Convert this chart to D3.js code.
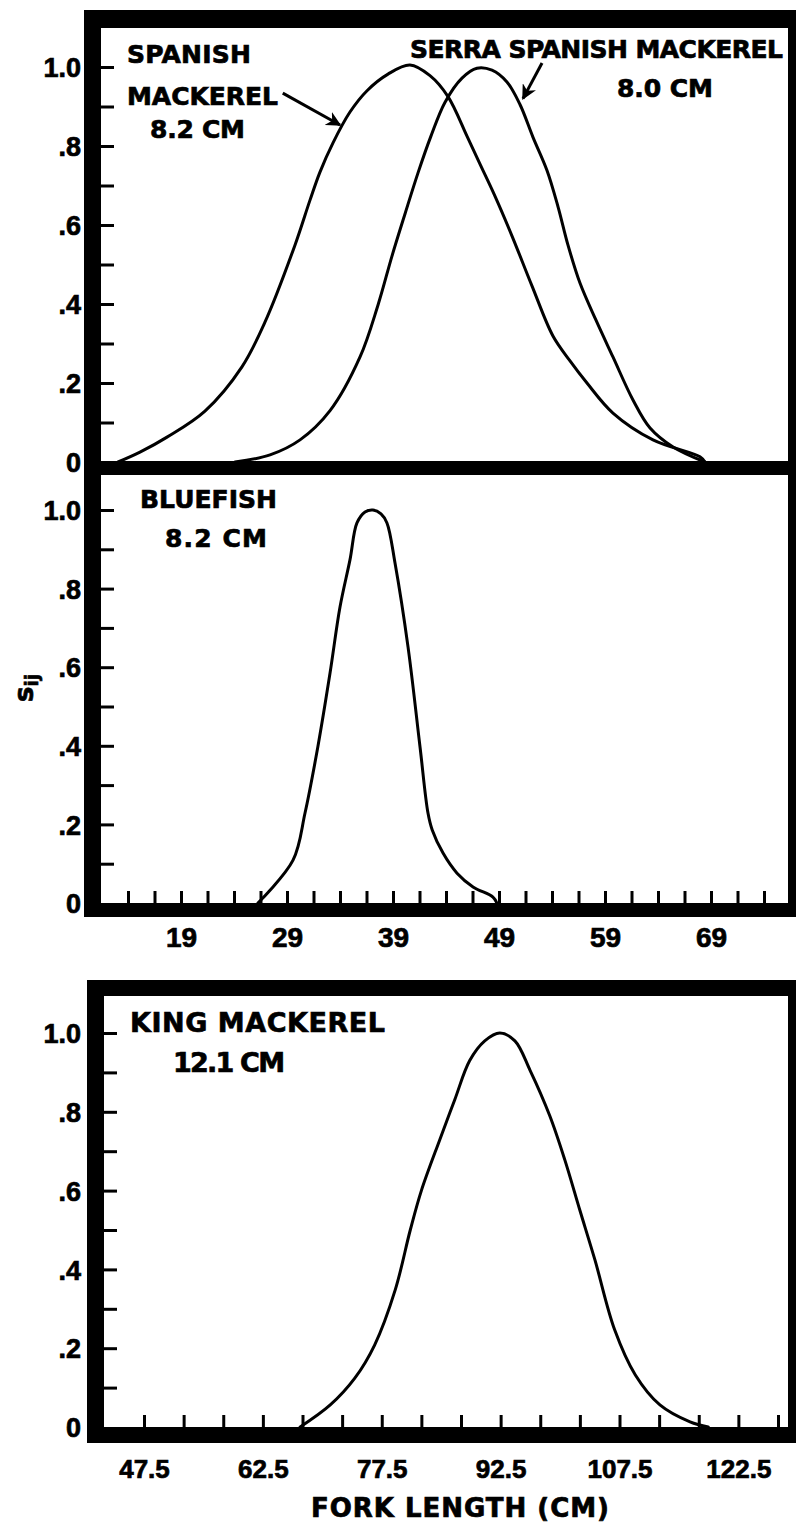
<!DOCTYPE html>
<html><head><meta charset="utf-8">
<script src="https://cdn.jsdelivr.net/npm/d3@7"></script>
<style>body{margin:0;background:#fff}svg{display:block}</style>
</head><body><svg id="c" width="796" height="1524"></svg>
<script>
// ---------- data ----------
const spanishLen = [13.06,15.13,17.68,21.26,24.75,26.92,29.75,31.17,32.11,33.34,34.94,36.55,38.53,40.6,42.49,44.19,45.98,47.21,48.62,50.23,52.11,54.09,55.7,57.3,59.75,63.53,67.96,68.43];
const spanishSel = [0,0.025,0.063,0.129,0.241,0.354,0.549,0.663,0.734,0.808,0.886,0.94,0.982,1.005,0.978,0.925,0.825,0.754,0.673,0.572,0.446,0.319,0.256,0.2,0.124,0.056,0.013,0];
const serraLen = [24.09,27.4,30.23,33.06,35.89,37.58,38.91,40.13,41.36,42.58,43.91,45.51,46.92,48.34,49.75,50.98,52.21,53.53,54.57,55.51,56.64,58.15,59.75,61.64,63.25,65.42,68.43];
const serraSel = [0,0.018,0.056,0.13,0.266,0.397,0.522,0.628,0.732,0.825,0.911,0.972,0.997,0.992,0.962,0.905,0.822,0.738,0.646,0.549,0.453,0.359,0.266,0.157,0.086,0.038,0];
const bluefishLen = [26.26,29.57,30.7,31.92,33.06,34.0,34.94,35.6,36.36,37.11,37.87,38.43,39.19,40.42,41.55,42.3,42.7,43.72,45.04,46.55,48.43,48.8];
const bluefishSel = [0,0.109,0.229,0.399,0.585,0.753,0.873,0.967,0.995,1.0,0.99,0.967,0.865,0.651,0.397,0.229,0.186,0.127,0.076,0.041,0.015,0];
const kingLen = [67.2,71.0,74.1,76.6,79.2,81.1,82.5,84.8,86.7,88.6,90.5,92.4,94.3,96.2,98.7,100.6,102.5,104.4,106.9,109.5,112.6,116.4,118.7];
const kingSel = [0,0.056,0.124,0.208,0.348,0.5,0.6,0.728,0.83,0.93,0.98,1.0,0.98,0.906,0.79,0.678,0.55,0.424,0.246,0.132,0.056,0.013,0];

const yMinorTicks = [0.1,0.2,0.3,0.4,0.5,0.6,0.7,0.8,0.9,1.0];
const yLabelTicks = [0,0.2,0.4,0.6,0.8,1.0];
const yLabelText = ["0",".2",".4",".6",".8","1.0"];
const smallXTicks = d3.range(14, 74.01, 2.5);
const smallXLabels = [19,29,39,49,59,69];
const largeXTicks = d3.range(47.5, 127.51, 5);
const largeXLabels = [47.5,62.5,77.5,92.5,107.5,122.5];

// ---------- setup ----------
const svg = d3.select("#c");
const numFont = "'Liberation Sans', Arial, sans-serif";
const txtFont = "'DejaVu Sans', sans-serif";

const xSmall = d3.scaleLinear().domain([14, 74]).range([128, 764]);
const xLarge = d3.scaleLinear().domain([47.5, 127.5]).range([144, 778]);
const yTop = d3.scaleLinear().domain([0, 1]).range([462, 67]);
const yMid = d3.scaleLinear().domain([0, 1]).range([903, 510]);
const yBot = d3.scaleLinear().domain([0, 1]).range([1427, 1033]);

function bar(x, y, w, h) { svg.append("rect").attr("x", x).attr("y", y).attr("width", w).attr("height", h).attr("fill", "#000"); }
bar(84, 10, 716, 18);
bar(84, 10, 17, 907);
bar(788, 10, 12, 907);
bar(84, 461, 716, 14);
bar(84, 903, 716, 14);
bar(87, 980, 713, 16);
bar(87, 980, 17, 463);
bar(788, 980, 12, 463);
bar(87, 1427, 713, 16);

function boldify(sel) { sel.attr("stroke", "#000").attr("stroke-width", 0.7).attr("fill", "#000"); }

function yAxis(scale, innerX) {
  const g = svg.append("g").attr("transform", `translate(${innerX},0)`)
    .call(d3.axisRight(scale).tickValues(yMinorTicks).tickSize(14).tickFormat(""));
  g.select(".domain").remove();
  g.selectAll("line").attr("stroke", "#000").attr("stroke-width", 3);
  const l = svg.append("g").attr("transform", `translate(81,0)`)
    .call(d3.axisLeft(scale).tickValues(yLabelTicks).tickSize(0).tickPadding(0)
      .tickFormat((d, i) => yLabelText[i]));
  l.select(".domain").remove();
  l.selectAll("text").attr("font-family", numFont).attr("font-weight", "bold")
    .attr("font-size", 27).attr("dy", "0.36em").call(boldify);
}
yAxis(yTop, 100);
yAxis(yMid, 100);
yAxis(yBot, 103);

function xAxis(scale, baseY, ticks, labels, fmt, fs, labelY) {
  const g = svg.append("g").attr("transform", `translate(0,${baseY})`)
    .call(d3.axisTop(scale).tickValues(ticks).tickSize(12).tickFormat(""));
  g.select(".domain").remove();
  g.selectAll("line").attr("stroke", "#000").attr("stroke-width", 3);
  const l = svg.append("g").attr("transform", `translate(0,${labelY})`)
    .call(d3.axisBottom(scale).tickValues(labels).tickSize(0).tickPadding(0).tickFormat(fmt));
  l.select(".domain").remove();
  l.selectAll("text").attr("font-family", numFont).attr("font-weight", "bold")
    .attr("font-size", fs).attr("dy", "0").call(boldify);
}
xAxis(xSmall, 903, smallXTicks, smallXLabels, d => String(d), 28, 947);
xAxis(xLarge, 1427, largeXTicks, largeXLabels, d => d.toFixed(1), 26, 1478);

const line = (xs, ys) => d3.line().x(d => xs(d[0])).y(d => ys(d[1])).curve(d3.curveCatmullRom.alpha(0.5));
function curve(lens, sels, xs, ys) {
  const pts = lens.map((v, i) => [v, sels[i]]);
  svg.append("path").datum(pts).attr("d", line(xs, ys)).attr("fill", "none")
    .attr("stroke", "#000").attr("stroke-width", 3).attr("stroke-linejoin", "round").attr("stroke-linecap", "round");
}
curve(spanishLen, spanishSel, xSmall, yTop);
curve(serraLen, serraSel, xSmall, yTop);
curve(bluefishLen, bluefishSel, xSmall, yMid);
curve(kingLen, kingSel, xLarge, yBot);

svg.append("defs").append("marker").attr("id", "ah").attr("viewBox", "0 0 10 10")
  .attr("refX", 9).attr("refY", 5).attr("markerWidth", 5).attr("markerHeight", 5)
  .attr("orient", "auto").attr("markerUnits", "strokeWidth")
  .append("path").attr("d", "M0,0 L10,5 L0,10 L3,5 Z").attr("fill", "#000");
function arrow(x1, y1, x2, y2) {
  svg.append("line").attr("x1", xSmall(x1)).attr("y1", yTop(y1)).attr("x2", xSmall(x2)).attr("y2", yTop(y2))
    .attr("stroke", "#000").attr("stroke-width", 3).attr("marker-end", "url(#ah)");
}
arrow(28.6, 0.934, 34.0, 0.853);
arrow(53.06, 1.01, 51.26, 0.92);

function label(t, x, y, w, fs) {
  svg.append("text").attr("x", x).attr("y", y).attr("font-family", txtFont).attr("font-weight", "bold")
    .attr("font-size", fs || 25).attr("textLength", w).text(t).call(boldify);
}
label("SPANISH", 127, 63, 124);
label("MACKEREL", 127, 105, 151);
label("8.2 CM", 150, 138, 95);
label("SERRA SPANISH MACKEREL", 410, 58, 373);
label("8.0 CM", 617, 97, 96);
label("BLUEFISH", 140, 508, 137);
label("8.2 CM", 165, 547, 102);
label("KING MACKEREL", 130, 1032, 255, 27);
label("12.1 CM", 173, 1072, 112, 27);
label("FORK LENGTH (CM)", 311, 1517, 298, 26);

const yt = svg.append("text").attr("transform", "translate(33,702) rotate(-90)")
  .attr("font-family", txtFont).attr("font-weight", "bold").attr("font-size", 26).call(boldify);
yt.append("tspan").text("s");
yt.append("tspan").attr("font-size", 18).attr("dy", 5).text("ij");
</script>
</body></html>
